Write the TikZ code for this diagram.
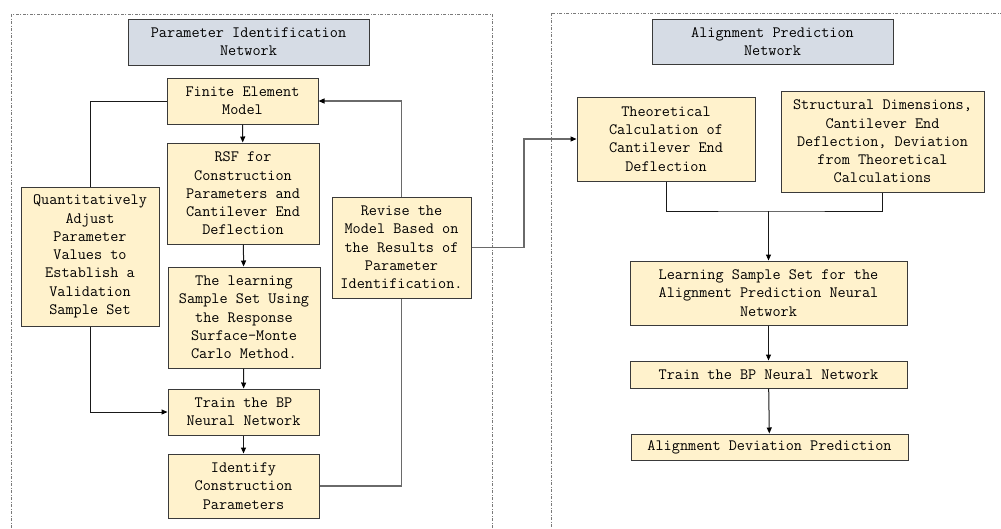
\documentclass[tikz,border=0pt]{standalone}
\usepackage{fontspec}
\usetikzlibrary{arrows.meta}
\definecolor{boxfill}{HTML}{FFF2CC}
\definecolor{titlefill}{HTML}{D6DCE5}
\definecolor{boxline}{HTML}{3A3A3A}
\definecolor{grayline}{HTML}{6A6A6A}
\definecolor{frameline}{HTML}{7A7A7A}
\tikzset{
  txt/.style={font=\ttfamily\fontsize{15.8}{18.3}\selectfont, align=center, inner sep=0pt},
  fbox/.style={txt, draw=boxline, line width=1pt, fill=boxfill},
  tbox/.style={txt, draw=boxline, line width=1pt, fill=titlefill},
  frame/.style={draw=frameline, line width=0.9pt, dash pattern=on 3pt off 1.5pt on 1pt off 1.5pt},
  conn/.style={draw=black!90, line width=1pt},
  gconn/.style={draw=grayline, line width=1.1pt},
  arr/.style={-{Triangle[length=6pt,width=5pt,color=black]}}
}
\begin{document}
\begin{tikzpicture}[x=1pt,y=-1pt]
\useasboundingbox (0,0) rectangle (1001,528);
\clip (0,0) rectangle (1001,528);
% frames
\draw[frame] (11,14) rectangle (492,545);
\draw[frame] (551,13) rectangle (1015,545);
% titles
\node[tbox, minimum width=241pt, minimum height=46pt] (titleL) at (248.5,42) {Parameter Identification\\Network};
\node[tbox, minimum width=241pt, minimum height=45pt] (titleR) at (772.5,41.5) {Alignment Prediction\\Network};
% left network
\node[fbox, minimum width=151pt, minimum height=46pt] (fe) at (242.5,101) {Finite Element\\Model};
\node[fbox, minimum width=152pt, minimum height=101pt] (rsf) at (243,193.5) {RSF for\\Construction\\Parameters and\\Cantilever End\\Deflection};
\node[fbox, minimum width=152pt, minimum height=101pt] (learnL) at (244,317.5) {The learning\\Sample Set Using\\the Response\\Surface-Monte\\Carlo Method.};
\node[fbox, minimum width=151pt, minimum height=46pt] (trainL) at (243.5,412) {Train the BP\\Neural Network};
\node[fbox, minimum width=151pt, minimum height=64pt] (ident) at (243.5,486) {Identify\\Construction\\Parameters};
\node[fbox, minimum width=138pt, minimum height=139pt] (quant) at (90,256.5) {Quantitatively\\Adjust\\Parameter\\Values to\\Establish a\\Validation\\Sample Set};
\node[fbox, minimum width=139pt, minimum height=101pt] (revise) at (401.5,247.5) {Revise the\\Model Based on\\the Results of\\Parameter\\Identification.};
% right network
\node[fbox, minimum width=178pt, minimum height=84pt] (theo) at (666,139) {Theoretical\\Calculation of\\Cantilever End\\Deflection};
\node[fbox, minimum width=203pt, minimum height=101pt] (struct) at (882.5,141.5) {Structural Dimensions,\\Cantilever End\\Deflection, Deviation\\from Theoretical\\Calculations};
\node[fbox, minimum width=277pt, minimum height=64pt] (learnR) at (768.5,293) {Learning Sample Set for the\\Alignment Prediction Neural\\Network};
\node[fbox, minimum width=277pt, minimum height=27pt] (trainR) at (768.5,374.5) {Train the BP Neural Network};
\node[fbox, minimum width=277pt, minimum height=26pt] (align) at (769.5,447) {Alignment Deviation Prediction};
% connectors left
\draw[conn, arr] (fe) -- (rsf);
\draw[conn, arr] (rsf) -- (learnL);
\draw[conn, arr] (learnL) -- (trainL);
\draw[conn, arr] (trainL) -- (ident);
\draw[conn] (fe.west) -| (quant.north);
\draw[conn, arr] (quant.south) |- (trainL.west);
\draw[gconn] (ident.east) -| (revise.south);
\draw[gconn, arr] (revise.north) |- (fe.east);
\draw[gconn, arr] (revise.east) -- ++(52.5,0) |- (theo.west);
% connectors right
\coordinate (mid) at (768.5,211);
\draw[conn] (theo.south) |- (mid) -| (struct.south);
\draw[conn, arr] (mid) -- (learnR.north);
\draw[conn, arr] (learnR) -- (trainR);
\draw[conn, arr] (trainR) -- (align);
\end{tikzpicture}
\end{document}
